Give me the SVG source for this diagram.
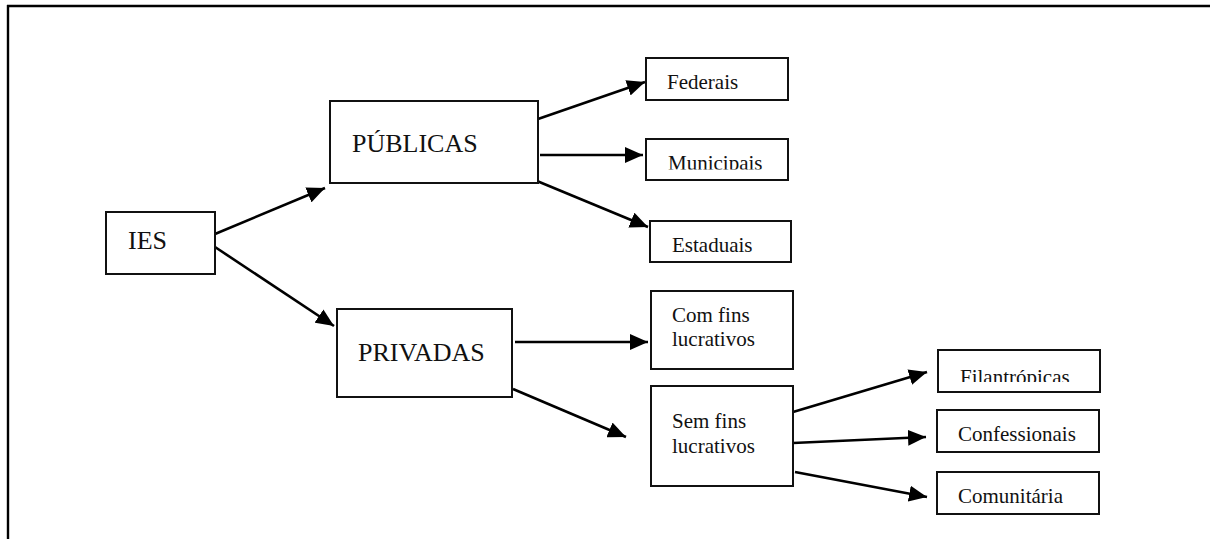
<svg xmlns="http://www.w3.org/2000/svg" width="1210" height="539" viewBox="0 0 1210 539">
<style>
.box{fill:#fff;stroke:#111;stroke-width:2}
.big{font-family:"Liberation Serif","Times New Roman",serif;font-size:26px;fill:#111}
.sm{font-family:"Liberation Serif","Times New Roman",serif;font-size:21px;fill:#111}
.ln{stroke:#000;stroke-width:2.6;fill:none;marker-end:url(#ah)}
</style>
<defs>
<marker id="ah" markerUnits="userSpaceOnUse" markerWidth="20" markerHeight="16" refX="18" refY="8" orient="auto">
<path d="M0,0 L18,8 L0,16 Z" fill="#000"/>
</marker>
<clipPath id="cMun"><rect x="646" y="139" width="142" height="30.5"/></clipPath>
<clipPath id="cFil"><rect x="938" y="350" width="162" height="32"/></clipPath>
</defs>
<rect width="1210" height="539" fill="#fff"/>
<g id="frame">
<line x1="7" y1="6" x2="1210" y2="6" stroke="#000" stroke-width="2.4"/>
<line x1="8" y1="5" x2="8" y2="539" stroke="#000" stroke-width="2.4"/>
</g>
<g id="connectors">
<line class="ln" x1="215" y1="234" x2="325" y2="188"/>
<line class="ln" x1="215" y1="247" x2="334" y2="326"/>
<line class="ln" x1="538" y1="119" x2="645" y2="82"/>
<line class="ln" x1="540" y1="155" x2="643" y2="155"/>
<line class="ln" x1="537" y1="181" x2="648" y2="227"/>
<line class="ln" x1="515" y1="342" x2="648" y2="342"/>
<line class="ln" x1="513" y1="389" x2="626" y2="437"/>
<line class="ln" x1="793" y1="412" x2="927" y2="372"/>
<line class="ln" x1="793" y1="443" x2="926" y2="437"/>
<line class="ln" x1="795" y1="472" x2="927" y2="497"/>
</g>
<g id="ies"><rect class="box" x="106" y="212" width="109" height="62"/><text class="big" x="128" y="249" font-size="25">IES</text></g>
<g id="publicas"><rect class="box" x="330" y="101" width="208" height="82"/><text class="big" x="352" y="152">PÚBLICAS</text></g>
<g id="privadas"><rect class="box" x="337" y="309" width="175" height="88"/><text class="big" x="358" y="361">PRIVADAS</text></g>
<g id="federais"><rect class="box" x="646" y="58" width="142" height="42"/><text class="sm" x="667" y="89">Federais</text></g>
<g id="municipais"><rect class="box" x="646" y="139" width="142" height="41"/><text class="sm" x="668" y="170" clip-path="url(#cMun)">Municipais</text></g>
<g id="estaduais"><rect class="box" x="650" y="221" width="141" height="41"/><text class="sm" x="672" y="252">Estaduais</text></g>
<g id="comfins"><rect class="box" x="651" y="291" width="142" height="78"/><text class="sm" x="672" y="322">Com fins</text><text class="sm" x="672" y="346">lucrativos</text></g>
<g id="semfins"><rect class="box" x="651" y="386" width="142" height="100"/><text class="sm" x="672" y="428">Sem fins</text><text class="sm" x="672" y="453">lucrativos</text></g>
<g id="filantropicas"><rect class="box" x="938" y="350" width="162" height="42"/><text class="sm" x="960" y="384" clip-path="url(#cFil)">Filantrópicas</text></g>
<g id="confessionais"><rect class="box" x="937" y="410" width="162" height="42"/><text class="sm" x="958" y="441">Confessionais</text></g>
<g id="comunitaria"><rect class="box" x="937" y="472" width="162" height="42"/><text class="sm" x="958" y="503">Comunitária</text></g>
</svg>
